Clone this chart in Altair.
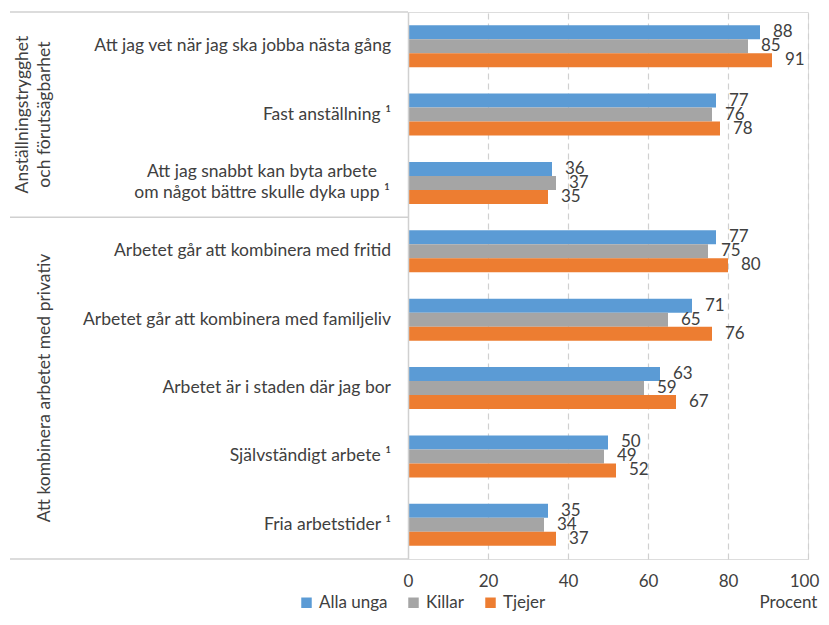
import altair as alt
import pandas as pd

categories = [
    "Att jag vet när jag ska jobba nästa gång",
    "Fast anställning ¹",
    "Att jag snabbt kan byta arbete\nom något bättre skulle dyka upp ¹",
    "Arbetet går att kombinera med fritid",
    "Arbetet går att kombinera med familjeliv",
    "Arbetet är i staden där jag bor",
    "Självständigt arbete ¹",
    "Fria arbetstider ¹",
]
series = ["Alla unga", "Killar", "Tjejer"]
colors = ["#5B9BD5", "#A5A5A5", "#ED7D31"]
alla_unga = [88, 77, 36, 77, 71, 63, 50, 35]
killar = [85, 76, 37, 75, 65, 59, 49, 34]
tjejer = [91, 78, 35, 80, 76, 67, 52, 37]
x_ticks = [0, 20, 40, 60, 80, 100]

group_lines_a = ["Anställningstrygghet"]
group_lines_b = ["och förutsägbarhet", "Att kombinera arbetet med privativ"]
group_a_cat = [categories[1]]
group_b_cat = [categories[1], categories[5]]
boundary_top = [categories[0], categories[3]]
boundary_bottom = [categories[7]]

rows = []
for s, vals in zip(series, [alla_unga, killar, tjejer]):
    for c, v in zip(categories, vals):
        rows.append({"cat": c, "series": s, "value": v})
df = pd.DataFrame(rows)

FONT = "Lato"
TXT = "#404040"
GRID = "#D0D0D0"

y_scale = alt.Scale(domain=categories, paddingInner=0, paddingOuter=0)
yo_scale = alt.Scale(domain=series, paddingInner=0, paddingOuter=0.943)

y_enc = alt.Y(
    "cat:N",
    sort=categories,
    scale=y_scale,
    axis=alt.Axis(
        title=None,
        ticks=False,
        labels=False,
        domain=True,
        domainColor=GRID,
        domainWidth=1.5,
        zindex=1,
    ),
)

x_enc = alt.X(
    "value:Q",
    scale=alt.Scale(domain=[0, 100], nice=False),
    axis=alt.Axis(
        values=x_ticks,
        title="Procent",
        titleFont=FONT,
        titleFontSize=17,
        titleFontWeight="normal",
        titleColor=TXT,
        titleAlign="center",
        titleBaseline="middle",
        titleX=380,
        titleY=43,
        domain=False,
        ticks=False,
        labelFlush=False,
        labelOffset=alt.ExprRef("datum.value == 100 ? -4 : 0"),
        labelPadding=14,
        labelFont=FONT,
        labelFontSize=17,
        labelColor=TXT,
        grid=True,
        gridColor=GRID,
        gridDash=[6, 4],
        gridWidth=1.2,
        gridOpacity=alt.ExprRef("datum.value == 0 ? 0 : 1"),
    ),
)

base = alt.Chart(df)

bars = base.mark_bar(size=14).encode(
    y=y_enc,
    x=x_enc,
    yOffset=alt.YOffset("series:N", sort=series, scale=yo_scale),
    color=alt.Color(
        "series:N",
        sort=series,
        scale=alt.Scale(domain=series, range=colors),
        legend=alt.Legend(
            title=None,
            orient="none",
            legendX=-110,
            legendY=582,
            direction="horizontal",
            symbolType="square",
            symbolSize=110,
            symbolStrokeWidth=0,
            labelFont=FONT,
            labelFontSize=17,
            labelColor=TXT,
            labelOffset=4,
            columnPadding=17,
        ),
    ),
)

labels = base.mark_text(
    align="left", baseline="middle", dx=13, font=FONT, fontSize=17, color=TXT
).encode(
    y=alt.Y("cat:N", sort=categories),
    x=alt.X("value:Q"),
    yOffset=alt.YOffset("series:N", sort=series),
    text=alt.Text("value:Q"),
)

cat_df = pd.DataFrame({"cat": categories})
single = cat_df[~cat_df["cat"].str.contains("\n")]
multi = cat_df[cat_df["cat"].str.contains("\n")]

catlab_single = alt.Chart(single).mark_text(
    align="right", baseline="middle", font=FONT, fontSize=17.5, color=TXT
).encode(y=alt.Y("cat:N", sort=categories), x=alt.value(-17), text="cat:N")

catlab_multi = alt.Chart(multi).mark_text(
    align="center", baseline="middle", font=FONT, fontSize=17.5, color=TXT,
    lineBreak="\n", lineHeight=21, dy=-10.5,
).encode(y=alt.Y("cat:N", sort=categories), x=alt.value(-146), text="cat:N")

glabel_a = alt.Chart(pd.DataFrame({"g": group_lines_a, "cat": group_a_cat})).mark_text(
    angle=270, align="center", baseline="middle", font=FONT, fontSize=17.5, color=TXT
).encode(y=alt.Y("cat:N", sort=categories), x=alt.value(-385), text="g:N")

glabel_b = alt.Chart(pd.DataFrame({"g": group_lines_b, "cat": group_b_cat})).mark_text(
    angle=270, align="center", baseline="middle", font=FONT, fontSize=17.5, color=TXT
).encode(y=alt.Y("cat:N", sort=categories), x=alt.value(-363), text="g:N")

rule_top = alt.Chart(pd.DataFrame({"cat": boundary_top})).mark_rule(
    color=GRID, strokeWidth=1.5
).encode(
    y=alt.Y("cat:N", sort=categories, bandPosition=0),
    x=alt.value(-398),
    x2=alt.value(0),
)
rule_bottom = alt.Chart(pd.DataFrame({"cat": boundary_bottom})).mark_rule(
    color=GRID, strokeWidth=1.5
).encode(
    y=alt.Y("cat:N", sort=categories, bandPosition=1),
    x=alt.value(-398),
    x2=alt.value(0),
)

chart = (
    alt.layer(
        rule_top, rule_bottom, bars, labels,
        catlab_single, catlab_multi, glabel_a, glabel_b,
    )
    .properties(
        width=400,
        height=547,
        autosize=alt.AutoSizeParams(type="none"),
        padding={"left": 400, "top": 4, "right": 13, "bottom": 54},
    )
    .configure_view(stroke=None)
    .configure(background="white")
)

chart.save("out.html", embed_options={"renderer": "svg", "actions": False})
